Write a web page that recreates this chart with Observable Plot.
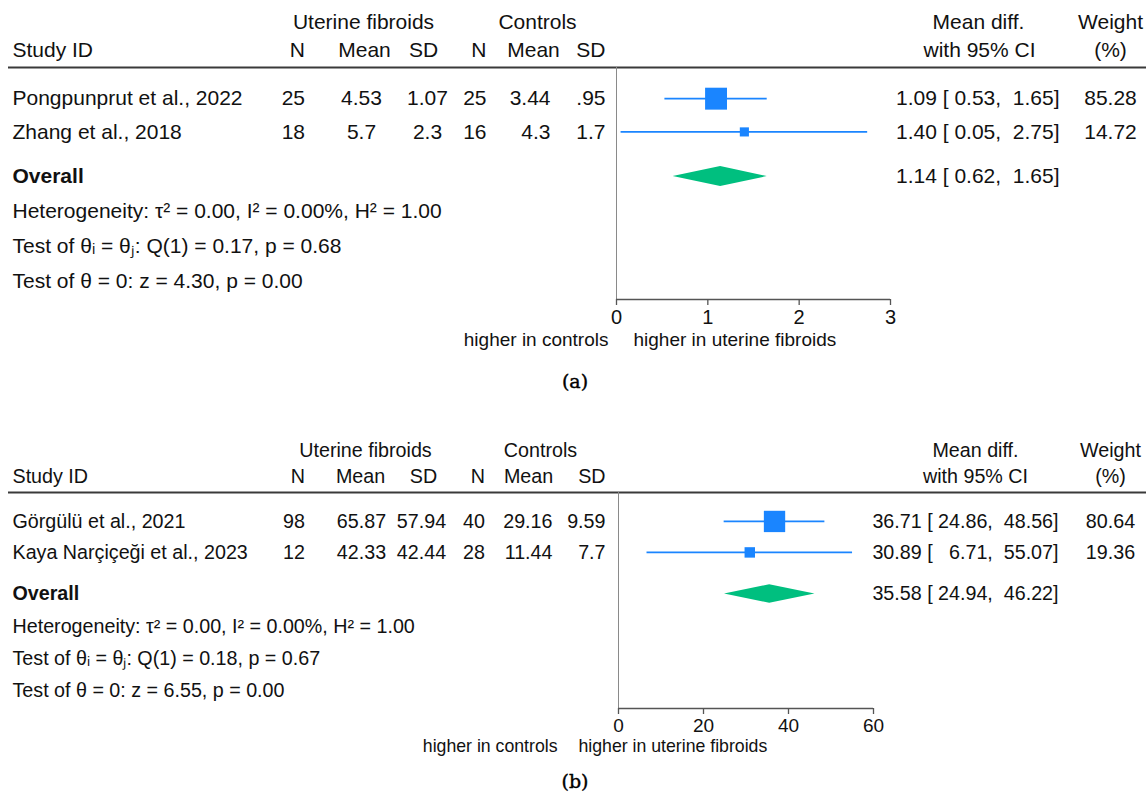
<!DOCTYPE html>
<html><head><meta charset="utf-8">
<script src="https://cdn.jsdelivr.net/npm/d3@7"></script>
<script src="https://cdn.jsdelivr.net/npm/@observablehq/plot@0.6"></script>
<style>
body{margin:0;background:#fff;width:1146px;}
svg text{white-space:pre;}
.cap{height:42px;line-height:42px;font-family:"DejaVu Serif",serif;font-size:19px;text-align:center;padding-left:4px;box-sizing:border-box;width:1146px;color:#000;-webkit-text-stroke:0.4px #000;}
</style></head><body>
<div id="pa"></div><div class="cap">(a)</div>
<div id="pb"></div><div class="cap" style="height:38px;line-height:38px">(b)</div>
<script>
// ---------- Panel (a) data ----------
const studiesA = ["Pongpunprut et al., 2022", "Zhang et al., 2018"];
const ufNA = ["25", "18"];
const ufMeanA = ["4.53", "5.7"];
const ufSDA = ["1.07", "2.3"];
const ctNA = ["25", "16"];
const ctMeanA = ["3.44", "4.3"];
const ctSDA = [".95", "1.7"];
const mdA = [1.09, 1.40];
const loA = [0.53, 0.05];
const hiA = [1.65, 2.75];
const weightA = [85.28, 14.72];
const weightLabelA = ["85.28", "14.72"];
const ciLabelA = ["1.09 [ 0.53,  1.65]", "1.40 [ 0.05,  2.75]"];
const overallA = {md: 1.14, lo: 0.62, hi: 1.65, label: "1.14 [ 0.62,  1.65]"};
const statsA = ["Heterogeneity: τ² = 0.00, I² = 0.00%, H² = 1.00",
                "Test of θᵢ = θⱼ: Q(1) = 0.17, p = 0.68",
                "Test of θ = 0: z = 4.30, p = 0.00"];
const ticksA = [0, 1, 2, 3];

// ---------- Panel (b) data ----------
const studiesB = ["Görgülü et al., 2021", "Kaya Narçiçeği et al., 2023"];
const ufNB = ["98", "12"];
const ufMeanB = ["65.87", "42.33"];
const ufSDB = ["57.94", "42.44"];
const ctNB = ["40", "28"];
const ctMeanB = ["29.16", "11.44"];
const ctSDB = ["9.59", "7.7"];
const mdB = [36.71, 30.89];
const loB = [24.86, 6.71];
const hiB = [48.56, 55.07];
const weightB = [80.64, 19.36];
const weightLabelB = ["80.64", "19.36"];
const ciLabelB = ["36.71 [ 24.86,  48.56]", "30.89 [   6.71,  55.07]"];
const overallB = {md: 35.58, lo: 24.94, hi: 46.22, label: "35.58 [ 24.94,  46.22]"};
const statsB = ["Heterogeneity: τ² = 0.00, I² = 0.00%, H² = 1.00",
                "Test of θᵢ = θⱼ: Q(1) = 0.18, p = 0.67",
                "Test of θ = 0: z = 6.55, p = 0.00"];
const ticksB = [0, 20, 40, 60];

// shared text labels
const headTop = ["Uterine fibroids", "Controls", "Mean diff.", "Weight"];
const headBottom = ["Study ID", "N", "Mean", "SD", "N", "Mean", "SD", "with 95% CI", "(%)"];
const favourLabels = ["higher in controls", "higher in uterine fibroids"];

// ---------- layout (code, not data) ----------
const FONT = '"Liberation Sans", Arial, Helvetica, sans-serif';
const BLUE = "#1a85ff", GREEN = "#00bf7f", INK = "#111";
const SLOT = {h1: -2.2, h2: -1.4, rule: -0.9, studies: [0, 0.96], overall: 2.25, stats: [3.25, 4.26, 5.26], axis: 5.8};
const ML = 8;

function forest(P) {
  const L = P.layout;
  const rows = P.studies.map((s, i) => ({
    study: s, ufN: P.ufN[i], ufMean: P.ufMean[i], ufSD: P.ufSD[i],
    ctN: P.ctN[i], ctMean: P.ctMean[i], ctSD: P.ctSD[i],
    md: P.md[i], lo: P.lo[i], hi: P.hi[i], w: P.weight[i], wl: P.weightLabel[i],
    ci: P.ciLabel[i], y: SLOT.studies[i]
  }));
  const base = {frameAnchor: "left", fill: INK, fontSize: P.font};
  const cell = (field, spec, extra = {}) =>
    Plot.text(rows, {...base, y: "y", text: field, dx: spec[0] - ML, textAnchor: spec[1], ...extra});
  const heads = (labels, specs, slot) => labels.map((t, i) =>
    Plot.text([t], {...base, text: d => d, y: slot, dx: specs[i][0] - ML, textAnchor: specs[i][1]}));
  const O = P.overall;
  const h = 0.29;
  const diamond = [
    {x: O.lo, y1: SLOT.overall, y2: SLOT.overall},
    {x: O.md, y1: SLOT.overall - h, y2: SLOT.overall + h},
    {x: O.hi, y1: SLOT.overall, y2: SLOT.overall}
  ];
  const t0 = P.ticks[0], t1 = P.ticks[P.ticks.length - 1];
  return Plot.plot({
    width: 1146, height: P.height,
    marginLeft: ML, marginRight: 0, marginTop: 0, marginBottom: P.marginBottom,
    style: {fontFamily: FONT, fontSize: P.font + "px", color: INK, background: "#fff"},
    x: {domain: [t0, t1], range: P.xRange, axis: null},
    y: {domain: [SLOT.h1, SLOT.axis], range: P.yRange, axis: null},
    r: {type: "sqrt", domain: [0, 100], range: [0, 13.4]},
    marks: [
      Plot.ruleY([SLOT.rule], {stroke: "#3a3a3a", strokeWidth: 2}),
      Plot.ruleX([0], {y1: SLOT.rule, y2: SLOT.axis, stroke: "#8a8a8a", strokeWidth: 1}),
      Plot.ruleY([SLOT.axis], {x1: t0, x2: t1, stroke: "#555", strokeWidth: 1.5}),
      Plot.axisX({ticks: P.ticks, tickFormat: d => String(d), tickSize: 6, tickPadding: P.tickPad, label: null, stroke: "#555", strokeWidth: 1.3, fill: INK, fontSize: P.tickFont}),
      // header rows
      ...heads(headTop, L.top, SLOT.h1),
      ...heads(headBottom, L.bottom, SLOT.h2),
      // table cells
      cell("study", [12, "start"]),
      cell("ufN", L.ufN), cell("ufMean", L.ufMean), cell("ufSD", L.ufSD),
      cell("ctN", L.ctN), cell("ctMean", L.ctMean), cell("ctSD", L.ctSD),
      cell("ci", L.ci), cell("wl", L.w),
      // overall + stats
      Plot.text(["Overall"], {...base, text: d => d, y: SLOT.overall, dx: 12 - ML, textAnchor: "start", fontWeight: "bold"}),
      Plot.text([O.label], {...base, text: d => d, y: SLOT.overall, dx: L.ci[0] - ML, textAnchor: "end"}),
      Plot.text(P.stats, {...base, text: d => d, y: (d, i) => SLOT.stats[i], dx: 12 - ML, textAnchor: "start"}),
      // forest
      Plot.ruleY(rows, {y: "y", x1: "lo", x2: "hi", stroke: BLUE, strokeWidth: 1.8}),
      Plot.dot(rows, {x: "md", y: "y", r: "w", symbol: "square", fill: BLUE, stroke: "none"}),
      Plot.areaY(diamond, {x: "x", y1: "y1", y2: "y2", fill: GREEN, curve: "linear"}),
      // favour labels
      Plot.text([favourLabels[0]], {text: d => d, x: 0, frameAnchor: "bottom", dy: P.favDy, dx: P.favDx[0], textAnchor: "end", fill: INK, fontSize: P.favFont}),
      Plot.text([favourLabels[1]], {text: d => d, x: 0, frameAnchor: "bottom", dy: P.favDy, dx: P.favDx[1], textAnchor: "start", fill: INK, fontSize: P.favFont})
    ]
  });
}

const layoutA = {
  top: [[363, "middle"], [537, "middle"], [978, "middle"], [1110, "middle"]],
  bottom: [[12, "start"], [304.5, "end"], [364, "middle"], [423, "middle"], [486, "end"], [533, "middle"], [605, "end"], [979, "middle"], [1110, "middle"]],
  ufN: [304.5, "end"], ufMean: [361, "middle"], ufSD: [427, "middle"],
  ctN: [486, "end"], ctMean: [550, "end"], ctSD: [605, "end"],
  ci: [1059, "end"], w: [1110, "middle"]
};
const layoutB = {
  top: [[365, "middle"], [540, "middle"], [975, "middle"], [1110, "middle"]],
  bottom: [[12, "start"], [304.5, "end"], [360, "middle"], [423, "middle"], [484.5, "end"], [528, "middle"], [605, "end"], [975, "middle"], [1110, "middle"]],
  ufN: [304.5, "end"], ufMean: [361, "middle"], ufSD: [421, "middle"],
  ctN: [484.5, "end"], ctMean: [552, "end"], ctSD: [605, "end"],
  ci: [1058, "end"], w: [1110, "middle"]
};

document.getElementById("pa").append(forest({
  studies: studiesA, ufN: ufNA, ufMean: ufMeanA, ufSD: ufSDA, ctN: ctNA, ctMean: ctMeanA, ctSD: ctSDA,
  md: mdA, lo: loA, hi: hiA, weight: weightA, weightLabel: weightLabelA, ciLabel: ciLabelA,
  overall: overallA, stats: statsA, ticks: ticksA, layout: layoutA,
  font: 21, tickFont: 20, favFont: 19, height: 360, marginBottom: 61, xRange: [616, 890], yRange: [22, 299],
  tickPad: 4, favDy: 46, favDx: [-8, 17]
}));
document.getElementById("pb").append(forest({
  studies: studiesB, ufN: ufNB, ufMean: ufMeanB, ufSD: ufSDB, ctN: ctNB, ctMean: ctMeanB, ctSD: ctSDB,
  md: mdB, lo: loB, hi: hiB, weight: weightB, weightLabel: weightLabelB, ciLabel: ciLabelB,
  overall: overallB, stats: statsB, ticks: ticksB, layout: layoutB,
  font: 19.7, tickFont: 19, favFont: 17.7, height: 360, marginBottom: 54, xRange: [618, 873], yRange: [48, 306],
  tickPad: 4, favDy: 43, favDx: [-61, -40]
}));
</script>
</body></html>
